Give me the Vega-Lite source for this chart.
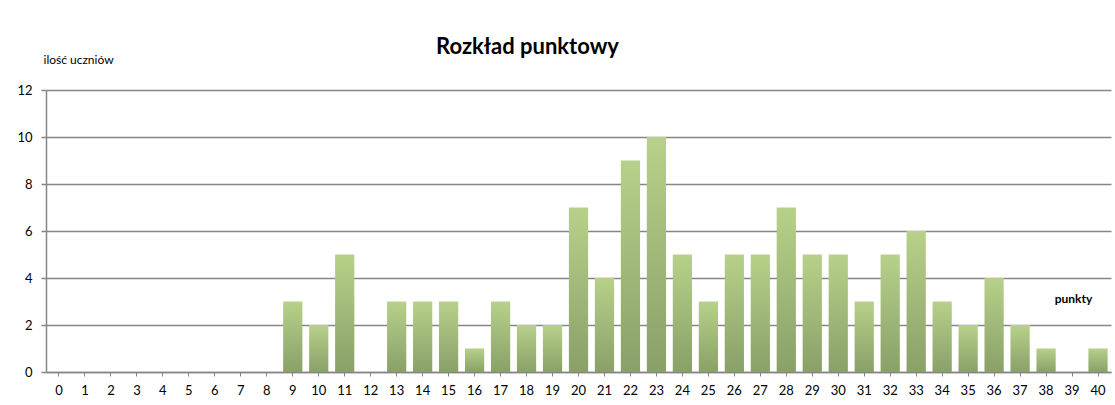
{
  "$schema": "https://vega.github.io/schema/vega-lite/v6.json",
  "width": 1065,
  "height": 282,
  "autosize": {"type": "none"},
  "padding": {"left": 46, "top": 90, "right": 4, "bottom": 33},
  "background": "white",
  "config": {
    "font": "Lato",
    "view": {"stroke": null}
  },
  "title": {
    "text": "Rozkład punktowy",
    "font": "Lato",
    "fontSize": 22,
    "fontWeight": "bold",
    "color": "#000000",
    "anchor": "middle",
    "dx": -51,
    "dy": 36,
    "offset": 30
  },
  "data": {
    "values": [
      {"punkty": 0, "ilosc": 0}, {"punkty": 1, "ilosc": 0}, {"punkty": 2, "ilosc": 0},
      {"punkty": 3, "ilosc": 0}, {"punkty": 4, "ilosc": 0}, {"punkty": 5, "ilosc": 0},
      {"punkty": 6, "ilosc": 0}, {"punkty": 7, "ilosc": 0}, {"punkty": 8, "ilosc": 0},
      {"punkty": 9, "ilosc": 3}, {"punkty": 10, "ilosc": 2}, {"punkty": 11, "ilosc": 5},
      {"punkty": 12, "ilosc": 0}, {"punkty": 13, "ilosc": 3}, {"punkty": 14, "ilosc": 3},
      {"punkty": 15, "ilosc": 3}, {"punkty": 16, "ilosc": 1}, {"punkty": 17, "ilosc": 3},
      {"punkty": 18, "ilosc": 2}, {"punkty": 19, "ilosc": 2}, {"punkty": 20, "ilosc": 7},
      {"punkty": 21, "ilosc": 4}, {"punkty": 22, "ilosc": 9}, {"punkty": 23, "ilosc": 10},
      {"punkty": 24, "ilosc": 5}, {"punkty": 25, "ilosc": 3}, {"punkty": 26, "ilosc": 5},
      {"punkty": 27, "ilosc": 5}, {"punkty": 28, "ilosc": 7}, {"punkty": 29, "ilosc": 5},
      {"punkty": 30, "ilosc": 5}, {"punkty": 31, "ilosc": 3}, {"punkty": 32, "ilosc": 5},
      {"punkty": 33, "ilosc": 6}, {"punkty": 34, "ilosc": 3}, {"punkty": 35, "ilosc": 2},
      {"punkty": 36, "ilosc": 4}, {"punkty": 37, "ilosc": 2}, {"punkty": 38, "ilosc": 1},
      {"punkty": 39, "ilosc": 0}, {"punkty": 40, "ilosc": 1}
    ]
  },
  "mark": {
    "type": "bar",
    "color": {
      "gradient": "linear",
      "x1": 0, "y1": 0, "x2": 0, "y2": 1,
      "stops": [
        {"offset": 0, "color": "#b7d18a"},
        {"offset": 1, "color": "#89a068"}
      ]
    }
  },
  "encoding": {
    "x": {
      "field": "punkty",
      "type": "ordinal",
      "sort": "ascending",
      "scale": {"paddingInner": 0.26, "paddingOuter": 0.13},
      "axis": {
        "title": "punkty",
        "titleFont": "Lato",
        "titleFontSize": 12,
        "titleFontWeight": "bold",
        "titleColor": "#000000",
        "titleX": 1027,
        "titleY": -74,
        "titleAlign": "center",
        "titleBaseline": "middle",
        "labelAngle": 0,
        "labelFont": "Lato",
        "labelFontSize": 13,
        "labelColor": "#000000",
        "labelPadding": 8,
        "domainColor": "#868686",
        "domainWidth": 1.5,
        "tickColor": "#868686",
        "tickSize": 4,
        "tickWidth": 1
      }
    },
    "y": {
      "field": "ilosc",
      "type": "quantitative",
      "scale": {"domain": [0, 12], "nice": false},
      "axis": {
        "title": "ilość uczniów",
        "titleFont": "Lato",
        "titleFontSize": 12,
        "titleFontWeight": "normal",
        "titleColor": "#000000",
        "titleAngle": 0,
        "titleX": -3,
        "titleY": -31,
        "titleAlign": "left",
        "titleBaseline": "middle",
        "values": [0, 2, 4, 6, 8, 10, 12],
        "labelFont": "Lato",
        "labelFontSize": 13,
        "labelColor": "#000000",
        "labelPadding": 9,
        "domainColor": "#868686",
        "domainWidth": 1.5,
        "tickColor": "#868686",
        "tickSize": 5,
        "tickWidth": 1.5,
        "grid": true,
        "gridColor": "#868686",
        "gridWidth": 1.5
      }
    }
  }
}
